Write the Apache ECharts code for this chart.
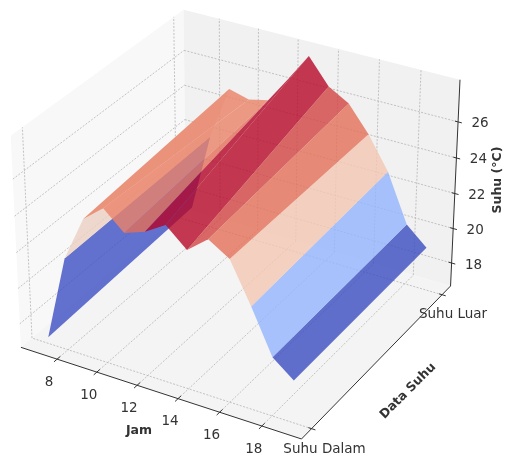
<!DOCTYPE html>
<html><head><meta charset="utf-8">
<style>html,body{margin:0;padding:0;background:#fff}#c{width:506px;height:456px;filter:blur(0.5px)}</style>
<script src="https://cdn.jsdelivr.net/npm/echarts@6/dist/echarts.min.js"></script>
</head><body><div id="c"></div>
<script>
const hours = [7,8,9,10,11,12,13,14,15,16,17,18,19];
const suhuDalam = [17.0,21.8,24.3,25.2,24.2,24.6,25.3,24.3,25.2,24.5,22.3,19.9,19.0];
const suhuLuar  = [17.5,22.0,25.05,24.75,25.0,26.5,28.05,26.65,26.0,24.6,22.8,20.1,19.1];
const xTicks = [8,10,12,14,16,18];
const yTickLabels = ['Suhu Dalam','Suhu Luar'];
const zTicks = [18,20,22,24,26];
const FONT = '"DejaVu Sans"';

// 3D projection (elev 30, azim -60, focal perspective)
const xlim=[6.15,19.85], ylim=[-0.0708,1.0708], zlim=[16.65,28.3];
const ASP=[1.1905,1.1905,0.8929], DIST=10, S=2700, OX=239.7, OY=214;
const U=[.8660,.5,0], V=[-.25,.4330,.8660], W=[.4330,-.75,.5];
const dot=(a,b)=>a[0]*b[0]+a[1]*b[1]+a[2]*b[2];
function q(x,y,z){return [((x-xlim[0])/(xlim[1]-xlim[0])-.5)*ASP[0],((y-ylim[0])/(ylim[1]-ylim[0])-.5)*ASP[1],((z-zlim[0])/(zlim[1]-zlim[0])-.5)*ASP[2]];}
function proj(x,y,z){const p=q(x,y,z),d=DIST-dot(p,W);return [OX+S*dot(p,U)/d, OY-S*dot(p,V)/d, d];}

// coolwarm
const CW=[[59,76,192],[98,130,234],[141,176,254],[184,208,249],[221,221,221],[245,196,173],[244,154,123],[222,96,77],[180,4,38]];
function coolwarm(t){t=Math.max(0,Math.min(1,t))*(CW.length-1);const i=Math.min(CW.length-2,Math.floor(t)),f=t-i,a=CW[i],b=CW[i+1];
 return 'rgba('+[0,1,2].map(k=>Math.round(a[k]+(b[k]-a[k])*f)).join(',')+',0.8)';}

// facets
const facets=[];
for(let i=0;i<hours.length-1;i++){
  const pts=[[hours[i],0,suhuDalam[i]],[hours[i+1],0,suhuDalam[i+1]],[hours[i+1],1,suhuLuar[i+1]],[hours[i],1,suhuLuar[i]]];
  const avg=pts.reduce((s,p)=>s+p[2],0)/4;
  const depth=pts.reduce((s,p)=>s+proj(p[0],p[1],p[2])[2],0)/4;
  facets.push({pts,avg,depth});
}
const amin=Math.min(...facets.map(f=>f.avg)),amax=Math.max(...facets.map(f=>f.avg));
facets.sort((a,b)=>b.depth-a.depth);

const [x0,x1]=xlim,[y0,y1]=ylim,[z0,z1]=zlim;
const panes=[
 {c:'#f8f8f8',p:[[x0,y0,z0],[x0,y1,z0],[x0,y1,z1],[x0,y0,z1]]},
 {c:'#f1f1f1',p:[[x0,y1,z0],[x1,y1,z0],[x1,y1,z1],[x0,y1,z1]]},
 {c:'#f4f4f4',p:[[x0,y0,z0],[x1,y0,z0],[x1,y1,z0],[x0,y1,z0]]}
];
const grid=[];
xTicks.forEach(t=>{grid.push([[t,y0,z0],[t,y1,z0]],[[t,y1,z0],[t,y1,z1]]);});
[0,1].forEach(t=>{grid.push([[x1,t,z0],[x0,t,z0]],[[x0,t,z0],[x0,t,z1]]);});
zTicks.forEach(t=>{grid.push([[x0,y0,t],[x0,y1,t]],[[x0,y1,t],[x1,y1,t]]);});
const axes=[[[x0,y0,z0],[x1,y0,z0]],[[x1,y0,z0],[x1,y1,z0]],[[x1,y1,z0],[x1,y1,z1]]];
xTicks.forEach(t=>axes.push([[t,y0-.02,z0],[t,y0+.02,z0]]));
[0,1].forEach(t=>axes.push([[x1-.15,t,z0],[x1+.18,t,z0]]));
zTicks.forEach(t=>axes.push([[x1-.15,y1,t],[x1+.18,y1,t]]));

const tick=(p,dx,dy)=>{const s=proj(p[0],p[1],p[2]);return [s[0]+dx,s[1]+dy];};
const texts=[];
xTicks.forEach(t=>texts.push({s:String(t),at:tick([t,y0,z0],-8,23),f:'13.5px '+FONT}));
yTickLabels.forEach((t,i)=>texts.push({s:t,at:tick([x1,i,z0],i?11:13,i?20:21),f:'13.5px '+FONT}));
zTicks.forEach(t=>texts.push({s:String(t),at:tick([x1,y1,t],22,2),f:'13.5px '+FONT}));
texts.push({s:'Jam',at:[139,431],f:'bold 12.5px '+FONT});
texts.push({s:'Data Suhu',at:[408,391],f:'bold 12.5px '+FONT,r:Math.PI/4});
texts.push({s:'Suhu (°C)',at:[498,180],f:'bold 12.5px '+FONT,r:Math.PI/2});

function px(api,p){const s=proj(p[0],p[1],p[2]);return api.coord([s[0],s[1]]);}
function layer(list,render){return {type:'custom',coordinateSystem:'cartesian2d',silent:true,clip:false,animation:false,
  data:list.map((_,i)=>[i,i]),encode:{x:0,y:1},renderItem:(params,api)=>render(list[params.dataIndex],api)};}

const chart=echarts.init(document.getElementById('c'),null,{renderer:'canvas'});
chart.setOption({
 animation:false,backgroundColor:'#fff',
 grid:{left:0,right:0,top:0,bottom:0},
 xAxis:{type:'value',min:0,max:506,show:false},
 yAxis:{type:'value',min:0,max:456,inverse:true,show:false},
 series:[
  layer(panes,(d,api)=>({type:'polygon',shape:{points:d.p.map(p=>px(api,p))},style:{fill:d.c}})),
  layer(grid,(d,api)=>{const a=px(api,d[0]),b=px(api,d[1]);return {type:'line',shape:{x1:a[0],y1:a[1],x2:b[0],y2:b[1]},style:{stroke:'#b4b4b4',lineWidth:.8,lineDash:[2,1.5]}};}),
  layer(axes,(d,api)=>{const a=px(api,d[0]),b=px(api,d[1]);return {type:'line',shape:{x1:a[0],y1:a[1],x2:b[0],y2:b[1]},style:{stroke:'#333',lineWidth:1}};}),
  layer(facets,(f,api)=>({type:'polygon',shape:{points:f.pts.map(p=>px(api,p))},style:{fill:coolwarm((f.avg-amin)/(amax-amin))}})),
  layer(texts,(t,api)=>{const c=api.coord(t.at);return {type:'text',x:c[0],y:c[1],rotation:t.r||0,style:{text:t.s,x:0,y:0,font:t.f,fill:'#333',align:'center',verticalAlign:'middle'}};})
 ]
});
</script></body></html>
